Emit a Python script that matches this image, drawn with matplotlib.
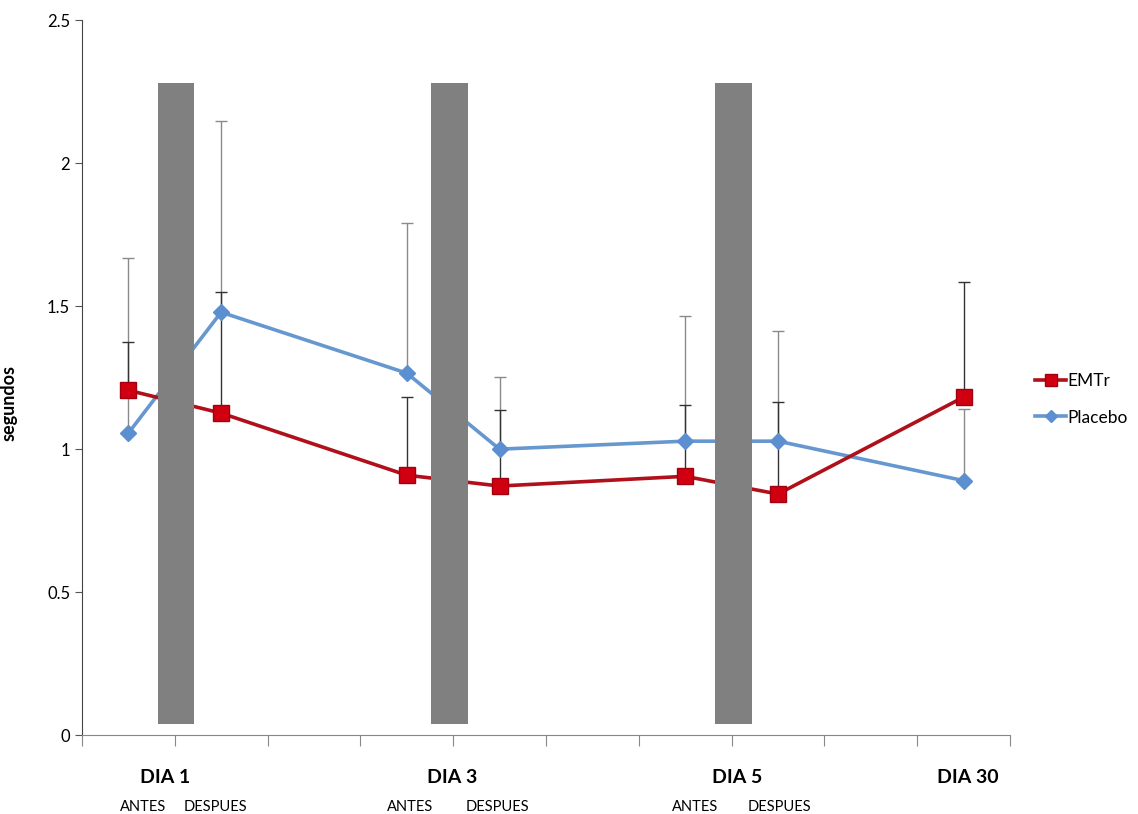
import numpy as np
import matplotlib.pyplot as plt

plt.rcParams['font.family'] = ['Lato', 'DejaVu Sans']

# category slots (10 slots, Excel style, ticks between slots)
slots = [0, 1, 3, 4, 6, 7, 9]

emtr = [1.206, 1.126, 0.909, 0.871, 0.905, 0.843, 1.182]
emtr_err = [0.168, 0.423, 0.273, 0.265, 0.249, 0.321, 0.403]

placebo = [1.056, 1.479, 1.266, 1.000, 1.028, 1.028, 0.890]
placebo_err = [0.612, 0.668, 0.524, 0.252, 0.437, 0.385, 0.250]

# stimulation sessions (grey bands)
session_x = [0.51, 3.46, 6.52]
session_bottom = 0.04
session_top = 2.28

day_labels = ['DIA 1', 'DIA 3', 'DIA 5', 'DIA 30']
day_x = [0.40, 3.49, 6.56, 9.05]
sub_labels = ['ANTES', 'DESPUES', 'ANTES', 'DESPUES', 'ANTES', 'DESPUES']
sub_x = [0.16, 0.94, 3.04, 3.98, 6.11, 7.02]

fig = plt.figure(figsize=(11.38, 8.14), dpi=100)
ax = fig.add_axes([0.072, 0.097, 0.8155, 0.878])

ax.errorbar(slots, placebo, yerr=[np.zeros(len(placebo)), placebo_err],
            fmt='none', ecolor='#8a8a8a', elinewidth=1.0, capsize=4, capthick=1.0, zorder=2)
ax.errorbar(slots, emtr, yerr=[np.zeros(len(emtr)), emtr_err],
            fmt='none', ecolor='#333333', elinewidth=1.0, capsize=4, capthick=1.0, zorder=2)

ax.plot(slots, placebo, color='#6797cf', lw=2.6, marker='D', ms=8,
        mfc='#5b8fd0', mec='#5b8fd0', label='Placebo', zorder=3)
ax.plot(slots, emtr, color='#b0101a', lw=2.6, marker='s', ms=11,
        mfc='#d00010', mec='#a00010', label='EMTr', zorder=4)

ax.bar(session_x, session_top - session_bottom, bottom=session_bottom, width=0.39,
       color='#808080', zorder=5)

ax.set_xlim(-0.5, 9.5)
ax.set_ylim(0, 2.5)
ax.set_yticks([0, 0.5, 1, 1.5, 2, 2.5])
ax.set_yticklabels(['0', '0.5', '1', '1.5', '2', '2.5'], fontsize=12)
ax.set_xticks(np.arange(-0.5, 10, 1))
ax.set_xticklabels([])
ax.tick_params(axis='x', length=8, color='#888888', direction='out')
ax.tick_params(axis='y', length=5, color='#555555', direction='out')

for s in ['top', 'right']:
    ax.spines[s].set_visible(False)
ax.spines['left'].set_color('#444444')
ax.spines['bottom'].set_color('#888888')

ax.set_ylabel('segundos', fontsize=13, fontweight='bold')
ax.yaxis.set_label_coords(-0.069, 0.465)

tr = ax.get_xaxis_transform()
for lab, x in zip(day_labels, day_x):
    ax.text(x, -0.060, lab, transform=tr, ha='center', va='center',
            fontsize=14, fontweight='bold')
for lab, x in zip(sub_labels, sub_x):
    ax.text(x, -0.101, lab, transform=tr, ha='center', va='center', fontsize=10.5)

handles, labels = ax.get_legend_handles_labels()
ax.legend(handles[::-1], labels[::-1], loc='center left', bbox_to_anchor=(1.01, 0.47),
          frameon=False, fontsize=12.5, handlelength=1.8, labelspacing=1.2,
          handletextpad=0.1, markerscale=0.8)

fig.savefig('out.png', dpi=100)
